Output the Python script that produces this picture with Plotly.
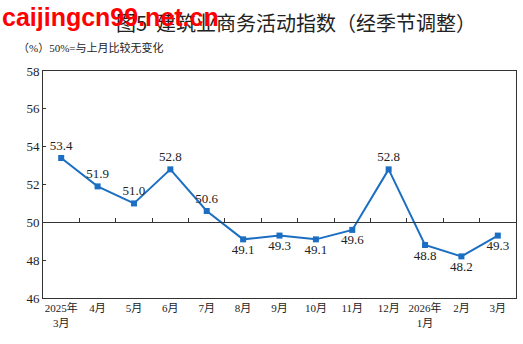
import plotly.graph_objects as go

months = ["2025年<br>3月", "4月", "5月", "6月", "7月", "8月", "9月", "10月", "11月", "12月", "2026年<br>1月", "2月", "3月"]
values = [53.4, 51.9, 51.0, 52.8, 50.6, 49.1, 49.3, 49.1, 49.6, 52.8, 48.8, 48.2, 49.3]
label_pos = ["top center", "top center", "top center", "top center", "top center", "bottom center",
             "bottom center", "bottom center", "bottom center", "top center", "bottom center",
             "bottom center", "bottom center"]
y_ticks = [46, 48, 50, 52, 54, 56, 58]

idx = list(range(len(months)))
serif = "Liberation Serif, Times New Roman, Noto Sans CJK SC, serif"

fig = go.Figure()
fig.add_trace(go.Scatter(
    x=idx, y=values, mode="lines+markers+text",
    text=[f"{v:.1f}" for v in values], textposition=label_pos,
    textfont=dict(family=serif, size=13, color="#222"),
    line=dict(color="#1b6ec2", width=2),
    marker=dict(symbol="square", size=6, color="#1b6ec2"),
    cliponaxis=False, showlegend=False, hoverinfo="skip"))
# invisible trace for the mid axis (50 line with ticks)
fig.add_trace(go.Scatter(x=[idx[0]], y=[values[0]], xaxis="x2", mode="markers",
                         marker=dict(opacity=0), showlegend=False, hoverinfo="skip"))

fig.update_layout(
    width=523, height=344,
    margin=dict(l=43, r=7, t=71, b=46),
    paper_bgcolor="white", plot_bgcolor="white",
    xaxis=dict(range=[-0.5, len(months) - 0.5], tickvals=idx, ticktext=months,
               showgrid=False, zeroline=False, showline=True, linecolor="#333", linewidth=1,
               mirror=True, ticks="", tickfont=dict(family=serif, size=11, color="#222")),
    xaxis2=dict(overlaying="x", anchor="free", position=(50 - 46) / (58 - 46), side="top",
                range=[-0.5, len(months) - 0.5],
                tickvals=[i + 0.5 for i in idx[:-1]], showticklabels=False,
                ticks="outside", ticklen=4, tickcolor="#333",
                showline=True, linecolor="#333", linewidth=1, showgrid=False, zeroline=False),
    yaxis=dict(range=[46, 58], tickvals=y_ticks, showgrid=False, zeroline=False,
               showline=True, linecolor="#333", linewidth=1, mirror=True,
               ticks="inside", ticklen=3, tickcolor="#333",
               tickfont=dict(family=serif, size=13, color="#222")),
)

fig.add_annotation(text="图5  建筑业商务活动指数（经季节调整）", xref="paper", yref="paper",
                   x=280 / 523, y=1, yanchor="middle", xanchor="center", showarrow=False,
                   yshift=(71 - 22), font=dict(family="Noto Sans CJK SC", size=20, color="#222"))
fig.add_annotation(text="caijingcn99.net.cn", xref="paper", yref="paper", x=-43 / 473, y=1,
                   xanchor="left", yanchor="middle", yshift=(71 - 17), showarrow=False,
                   font=dict(family="Liberation Sans, Arial", size=25, color="#ff0000", weight="bold"))
fig.add_annotation(text="（%）50%=与上月比较无变化", xref="paper", yref="paper", x=-27 / 473, y=1,
                   xanchor="left", yanchor="middle", yshift=(71 - 47), showarrow=False,
                   font=dict(family=serif, size=11, color="#222"))

fig.write_html("out.html")
